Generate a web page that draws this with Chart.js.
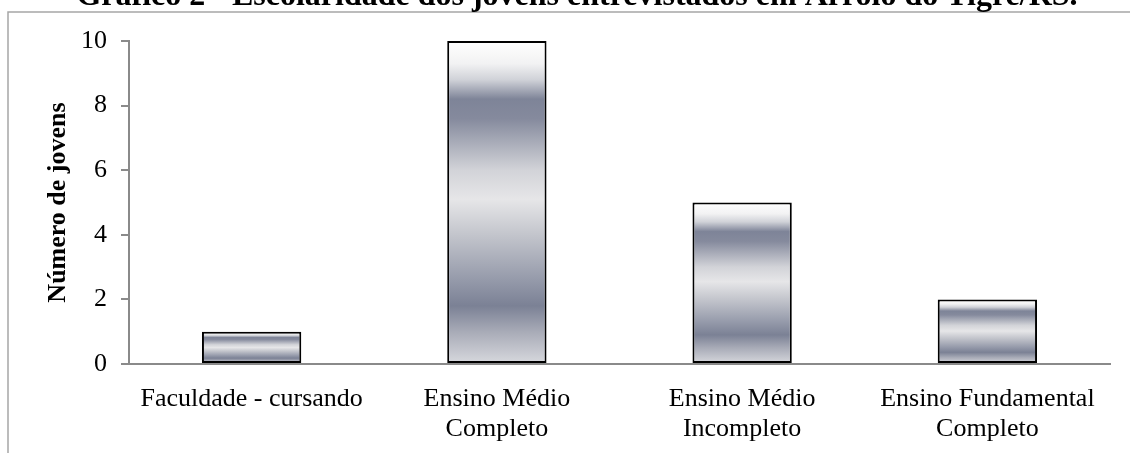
<!DOCTYPE html>
<html>
<head>
<meta charset="utf-8">
<script src="https://cdn.jsdelivr.net/npm/chart.js@4/dist/chart.umd.min.js"></script>
<style>
  html, body { margin: 0; padding: 0; background: #fff; }
  #wrap { position: relative; width: 1130px; height: 453px; }
</style>
</head>
<body>
<div id="wrap"><canvas id="myChart" width="1130" height="453"></canvas></div>
<script>
// escolaridade dos jovens
const categories = [
  "Faculdade - cursando",
  ["Ensino Médio", "Completo"],
  ["Ensino Médio", "Incompleto"],
  ["Ensino Fundamental", "Completo"]
];
const jovens = [1, 10, 5, 2];
const yTicks = [0, 2, 4, 6, 8, 10];

const chartTitle = "Gráfico 2 - Escolaridade dos jovens entrevistados em Arroio do Tigre/RS.";
const serif = "'Liberation Serif', 'Times New Roman', serif";

// metallic banding, stretched over each bar from top to base
function barGradient(context) {
  const chart = context.chart;
  const yScale = chart.scales.y;
  if (!chart.chartArea || !yScale || context.dataIndex === undefined) return "#a0a4b0";
  const value = context.dataset.data[context.dataIndex];
  const top = yScale.getPixelForValue(value);
  const base = yScale.getPixelForValue(0);
  if (!isFinite(top) || !isFinite(base) || top === base) return "#a0a4b0";
  const g = chart.ctx.createLinearGradient(0, top, 0, base);
  g.addColorStop(0.00, "#ffffff");
  g.addColorStop(0.07, "#f2f2f3");
  g.addColorStop(0.12, "#d0d2d8");
  g.addColorStop(0.18, "#7e8498");
  g.addColorStop(0.24, "#858a9d");
  g.addColorStop(0.40, "#d2d3d8");
  g.addColorStop(0.49, "#e6e6e8");
  g.addColorStop(0.60, "#c3c5cc");
  g.addColorStop(0.74, "#959aaa");
  g.addColorStop(0.82, "#7b8195");
  g.addColorStop(0.90, "#a8abb7");
  g.addColorStop(1.00, "#d8d9de");
  return g;
}

// frame lines and the heading
const framePlugin = {
  id: "frame",
  beforeDraw(chart) {
    const ctx = chart.ctx;
    ctx.save();
    ctx.strokeStyle = "#a6a6a6";
    ctx.lineWidth = 1.5;
    ctx.beginPath();
    ctx.moveTo(8, chart.height);
    ctx.lineTo(8, 12);
    ctx.lineTo(chart.width, 12);
    ctx.stroke();
    ctx.restore();
  },
  afterDraw(chart) {
    const ctx = chart.ctx;
    ctx.save();
    ctx.fillStyle = "#000";
    ctx.font = "bold 32px " + serif;
    ctx.textAlign = "center";
    ctx.textBaseline = "alphabetic";
    ctx.fillText(chartTitle, 577, 5);
    ctx.restore();
  }
};

const ctx = document.getElementById("myChart").getContext("2d");
new Chart(ctx, {
  type: "bar",
  data: {
    labels: categories,
    datasets: [{
      label: "Número de jovens",
      data: jovens,
      backgroundColor: barGradient,
      borderColor: "#000",
      borderWidth: 2,
      borderSkipped: false,
      categoryPercentage: 1.0,
      barPercentage: 0.405
    }]
  },
  options: {
    responsive: false,
    animation: false,
    events: [],
    layout: { padding: { left: 0, right: 20, top: 41, bottom: 0 } },
    plugins: {
      legend: { display: false },
      title: { display: false },
      tooltip: { enabled: false }
    },
    scales: {
      x: {
        grid: { display: false },
        border: { display: true, color: "#8a8a8a", width: 2 },
        ticks: {
          color: "#000",
          padding: 12,
          maxRotation: 0,
          autoSkip: false,
          font: { family: serif, size: 26, lineHeight: 1.15 }
        },
        afterFit(scale) { scale.height = 89; }
      },
      y: {
        min: 0,
        max: 10,
        afterBuildTicks(scale) {
          scale.ticks = yTicks.map(v => ({ value: v }));
        },
        grid: {
          drawOnChartArea: false,
          drawTicks: true,
          tickLength: 8,
          color: "#8a8a8a",
          lineWidth: 2
        },
        border: { display: true, color: "#8a8a8a", width: 2 },
        ticks: {
          color: "#000",
          padding: 14,
          font: { family: serif, size: 26 }
        },
        title: {
          display: true,
          text: "Número de jovens",
          color: "#000",
          padding: { top: 43, bottom: 0 },
          font: { family: serif, size: 26, weight: "bold", lineHeight: 1.2 }
        },
        afterFit(scale) { scale.width = 129; }
      }
    }
  },
  plugins: [framePlugin]
});
</script>
</body>
</html>
